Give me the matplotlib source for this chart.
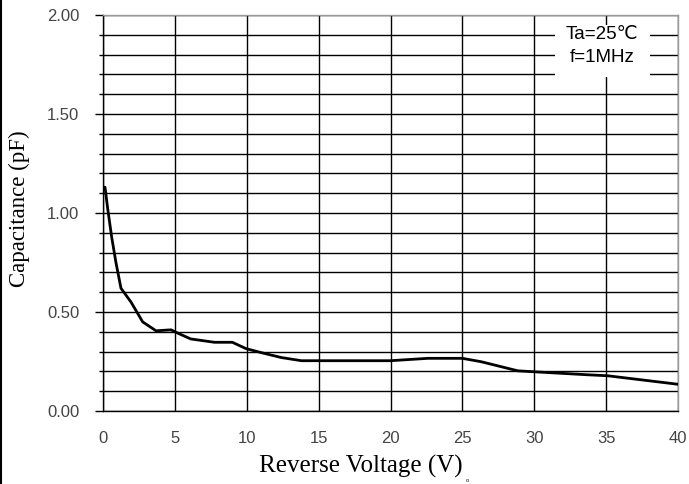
import matplotlib.pyplot as plt
from matplotlib.patches import Rectangle
from matplotlib.ticker import MultipleLocator

# Capacitance vs reverse voltage
voltage = [0.0, 0.14, 0.33, 0.6, 0.9, 1.25, 1.95, 2.76, 3.69, 4.73, 5.3, 6.1, 7.75, 9.0,
           9.95, 11.0, 12.4, 13.8, 20.0, 22.6, 25.0, 26.3, 28.85, 30.0, 33.7, 35.1, 40.0]
capacitance = [1.13, 1.13, 1.02, 0.88, 0.75, 0.62, 0.55, 0.45, 0.405, 0.41, 0.39, 0.364,
               0.347, 0.347, 0.315, 0.295, 0.27, 0.254, 0.254, 0.266, 0.266, 0.249,
               0.203, 0.198, 0.183, 0.178, 0.135]

x_ticks = [0, 5, 10, 15, 20, 25, 30, 35, 40]
y_ticks = [0.0, 0.5, 1.0, 1.5, 2.0]
conditions = ['Ta=25\u2103', 'f=1MHz']

sans = ['Liberation Sans', 'DejaVu Sans']
serif = ['Liberation Serif', 'DejaVu Serif']

fig = plt.figure(figsize=(6.89, 4.84), dpi=100)
ax = fig.add_axes([103 / 689, 1 - 411 / 484, (678 - 103) / 689, (411 - 15) / 484])

ax.plot(voltage, capacitance, color='black', linewidth=2.0, zorder=3)

ax.set_xlim(0, 40)
ax.set_ylim(0, 2.0)
ax.set_xticks(x_ticks)
ax.set_yticks(y_ticks)
ax.set_yticklabels(['%.2f' % v for v in y_ticks])
ax.yaxis.set_minor_locator(MultipleLocator(0.1))

ax.grid(True, which='both', axis='y', color='black', linewidth=1.0)
ax.grid(True, which='major', axis='x', color='black', linewidth=1.0)

ax.tick_params(axis='y', which='major', length=6, width=1.0, direction='out', pad=11,
               labelsize=12, labelcolor='#444444')
ax.tick_params(axis='y', which='minor', length=3, width=1.0, direction='out')
ax.tick_params(axis='x', which='major', length=0, pad=14.5, labelsize=12, labelcolor='#444444')
for lab in ax.get_xticklabels() + ax.get_yticklabels():
    lab.set_family(sans)

for side in ['left', 'bottom']:
    ax.spines[side].set_color('black')
    ax.spines[side].set_linewidth(1.0)
for side in ['top', 'right']:
    ax.spines[side].set_color('#999999')
    ax.spines[side].set_linewidth(1.0)

ax.set_xlabel('Reverse Voltage (V)', family=serif, fontsize=18, va='center')
ax.xaxis.set_label_coords(0.449, -0.141)
ax.set_ylabel('Capacitance (pF)', family=serif, fontsize=16.5, va='center', ha='center')
ax.yaxis.set_label_coords(-0.146, 0.51)

# condition box in the top right corner (white patch hides the grid)
ax.add_patch(Rectangle((31.45, 1.685), 6.6, 0.265, facecolor='white', edgecolor='none', zorder=4))
ax.text(34.7, 1.904, conditions[0], family=sans, fontsize=13.5, ha='center', va='center', zorder=5)
ax.text(34.7, 1.783, conditions[1], family=sans, fontsize=13.5, ha='center', va='center', zorder=5)

fig.text(467 / 689, 1 - 480 / 484, 'o', family=sans, fontsize=4, ha='center', va='center')
fig.add_artist(plt.Line2D([0.001, 0.001], [0, 1], color='black', linewidth=1.5,
                          transform=fig.transFigure))

fig.savefig('out.png', dpi=100)
